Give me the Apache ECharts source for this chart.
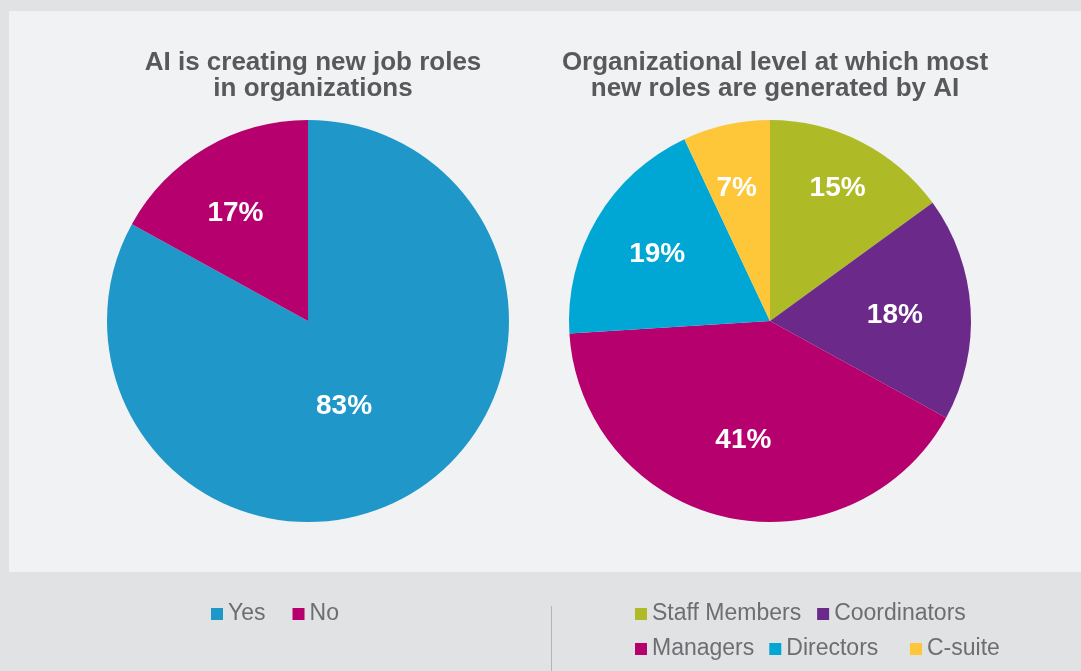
<!DOCTYPE html>
<html>
<head>
<meta charset="utf-8">
<script src="https://cdn.jsdelivr.net/npm/echarts@6/dist/echarts.min.js"></script>
<style>
  html, body { margin: 0; padding: 0; background: #e1e2e4; }
  #chart { width: 1081px; height: 671px; }
</style>
</head>
<body>
<div id="chart"></div>
<script>
// 数据
const jobRoleCats = ['Yes', 'No'];
const jobRoleVals = [83, 17];
const levelCats = ['Staff Members', 'Coordinators', 'Managers', 'Directors', 'C-suite'];
const levelVals = [15, 18, 41, 19, 7];

const jobRoleColors = ['#1f98c9', '#b5006e'];
const levelColors = ['#afbb26', '#6b2a8a', '#b5006e', '#00a7d4', '#fec739'];

const FONT = '"Liberation Sans", Arial, sans-serif';
const R = 201;
const centers = [[308, 321], [770, 321]];
// label distance from the pie centre (px) and a small turn (deg, clockwise)
const labelDist = [[93, 130], [149, 125, 122, 131, 137]];
const labelTurn = [[7.8, -3.3], [0, 1, 0, 0, -1.5]];

function toData(cats, vals, colors) {
  return cats.map(function (c, i) {
    return { name: c, value: vals[i], itemStyle: { color: colors[i] } };
  });
}

function pieSeries(name, idx, data) {
  return {
    name: name,
    type: 'pie',
    center: centers[idx],
    radius: [0, R],
    startAngle: 90,
    clockwise: true,
    silent: true,
    data: data,
    label: {
      show: true,
      position: 'inside',
      formatter: '{c}%',
      color: '#fff',
      fontSize: 28,
      fontWeight: 'bold',
      fontFamily: FONT
    },
    labelLine: { show: false },
    labelLayout: function (p) {
      let c = centers[p.seriesIndex],
        d = labelDist[p.seriesIndex][p.dataIndex],
        a = labelTurn[p.seriesIndex][p.dataIndex] * Math.PI / 180,
        ox = p.labelRect.x + p.labelRect.width / 2 - c[0],
        oy = p.labelRect.y + p.labelRect.height / 2 - c[1],
        len = Math.sqrt(ox * ox + oy * oy) || 1,
        dx = ox / len * d,
        dy = oy / len * d;
      return {
        x: c[0] + dx * Math.cos(a) - dy * Math.sin(a),
        y: c[1] + dx * Math.sin(a) + dy * Math.cos(a),
        align: 'center',
        verticalAlign: 'middle'
      };
    }
  };
}

const titleStyle = { fontSize: 26, fontWeight: 'bold', color: '#58595b', lineHeight: 26, fontFamily: FONT };
const legendBase = {
  orient: 'horizontal',
  padding: 0,
  icon: 'rect',
  itemWidth: 12,
  itemHeight: 12,
  selectedMode: false,
  textStyle: { fontSize: 23, color: '#6d6e71', fontFamily: FONT, lineHeight: 24 }
};

const option = {
  backgroundColor: '#e1e2e4',
  animation: false,
  graphic: [
    { type: 'rect', z: -10, shape: { x: 9, y: 11, width: 1072, height: 561 }, style: { fill: '#f1f2f4' } },
    { type: 'line', z: -10, shape: { x1: 551.5, y1: 606, x2: 551.5, y2: 671 }, style: { stroke: '#b4b5b7', lineWidth: 1 } }
  ],
  title: [
    { text: 'AI is creating new job roles\nin organizations', left: 308, top: 45, textAlign: 'center', textStyle: titleStyle },
    { text: 'Organizational level at which most\nnew roles are generated by AI', left: 770, top: 45, textAlign: 'center', textStyle: titleStyle }
  ],
  legend: [
    Object.assign({}, legendBase, { data: jobRoleCats, left: 211, top: 602, itemGap: 27 }),
    Object.assign({}, legendBase, { data: levelCats.slice(0, 2), left: 635, top: 602, itemGap: 16 }),
    Object.assign({}, legendBase, { data: levelCats.slice(2, 4), left: 635, top: 637, itemGap: 15 }),
    Object.assign({}, legendBase, { data: levelCats.slice(4), left: 910, top: 637 })
  ],
  series: [
    pieSeries('jobRoles', 0, toData(jobRoleCats, jobRoleVals, jobRoleColors)),
    pieSeries('levels', 1, toData(levelCats, levelVals, levelColors))
  ]
};

let myChart = echarts.init(document.getElementById('chart'));
myChart.setOption(option);
</script>
</body>
</html>
